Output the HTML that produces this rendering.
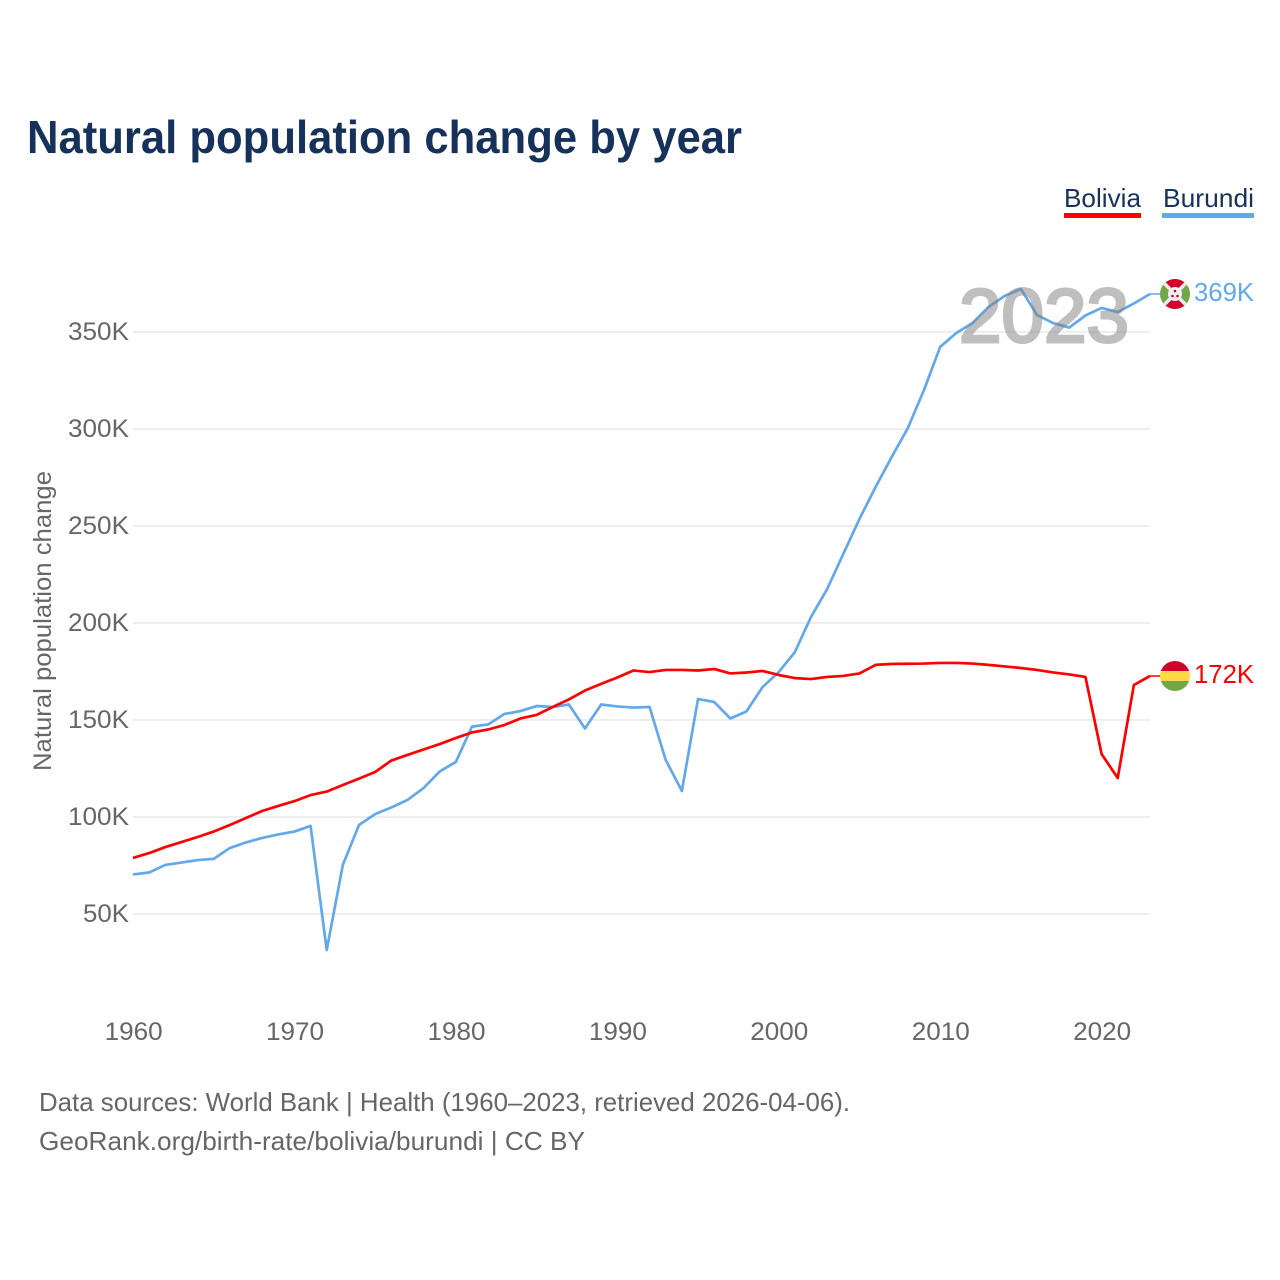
<!DOCTYPE html>
<html lang="en">
<head>
<meta charset="utf-8">
<title>Natural population change by year</title>
<style>
html,body{margin:0;padding:0;background:#fff;width:1280px;height:1280px;overflow:hidden}
svg{display:block}
text{font-family:"Liberation Sans",sans-serif}
</style>
</head>
<body>
<svg id="chart" xmlns="http://www.w3.org/2000/svg" width="1280" height="1280" viewBox="0 0 1280 1280">
  <text x="27" y="153" font-size="46" font-weight="700" fill="#16325a" textLength="715" lengthAdjust="spacingAndGlyphs">Natural population change by year</text>

  <g>
    <g>
      <text x="1064" y="207" font-size="26" fill="#16325a" textLength="77" lengthAdjust="spacingAndGlyphs">Bolivia</text>
      <rect x="1064" y="213" width="77" height="5" fill="#ff0000"/>
    </g>
    <g>
      <text x="1163" y="207" font-size="26" fill="#16325a" textLength="91" lengthAdjust="spacingAndGlyphs">Burundi</text>
      <rect x="1162" y="213" width="92" height="5" fill="#62a8ea"/>
    </g>
  </g>

  <g id="grid"></g>
  <g id="yticks"></g>
  <g id="xticks"></g>

  <text transform="translate(51,771) rotate(-90)" font-size="25" fill="#666666" textLength="300" lengthAdjust="spacingAndGlyphs">Natural population change</text>

  <g id="series"></g>

  <text x="959" y="342" font-size="76" font-weight="400" fill="#808080" stroke="#808080" stroke-width="3" opacity="0.5" textLength="170" lengthAdjust="spacingAndGlyphs">2023</text>

  <defs>
    <clipPath id="clip-bolivia"><circle cx="1175" cy="676" r="15"/></clipPath>
    <clipPath id="clip-burundi"><circle cx="1175" cy="294" r="15"/></clipPath>
  </defs>

  <g clip-path="url(#clip-bolivia)">
    <rect x="1160" y="661" width="30" height="10" fill="#d1002c"/>
    <rect x="1160" y="671" width="30" height="10" fill="#ffd848"/>
    <rect x="1160" y="681" width="30" height="10" fill="#70a845"/>
  </g>
  <g clip-path="url(#clip-burundi)">
    <polygon points="1160,279 1190,279 1175,294" fill="#d1002c"/>
    <polygon points="1160,309 1190,309 1175,294" fill="#d1002c"/>
    <polygon points="1160,279 1160,309 1175,294" fill="#70a845"/>
    <polygon points="1190,279 1190,309 1175,294" fill="#70a845"/>
    <line x1="1160" y1="279" x2="1190" y2="309" stroke="#ececec" stroke-width="3.5"/>
    <line x1="1190" y1="279" x2="1160" y2="309" stroke="#ececec" stroke-width="3.5"/>
    <circle cx="1175" cy="294" r="7" fill="#f0f0f0"/>
    <circle cx="1175" cy="291" r="1.3" fill="#d1002c"/>
    <circle cx="1172.5" cy="296" r="1.3" fill="#d1002c"/>
    <circle cx="1177.5" cy="296" r="1.3" fill="#d1002c"/>
  </g>

  <g font-size="26" fill="#666666">
    <text x="39" y="1111" textLength="811" lengthAdjust="spacingAndGlyphs">Data sources: World Bank | Health (1960–2023, retrieved 2026-04-06).</text>
    <text x="39" y="1150" textLength="546" lengthAdjust="spacingAndGlyphs">GeoRank.org/birth-rate/bolivia/burundi | CC BY</text>
  </g>
</svg>
<script>
const firstYear = 1960;
const bolivia = [78.9,81.4,84.5,87.1,89.7,92.5,95.9,99.5,103.1,105.7,108.2,111.3,113.1,116.5,119.8,123.2,129.1,132,134.8,137.6,140.7,143.6,145.1,147.4,150.8,152.6,156.7,160.6,165.2,168.6,171.9,175.5,174.7,175.8,175.8,175.5,176.3,174,174.5,175.3,173.2,171.6,171.1,172.2,172.7,174,178.4,178.9,179,179.1,179.4,179.4,179.1,178.4,177.6,176.8,175.8,174.5,173.5,172.2,132.5,120.1,168,172.7];
const burundi = [70.4,71.4,75.3,76.5,77.8,78.4,84,86.9,89.2,91,92.5,95.4,31.4,75.3,95.9,101.5,104.9,108.8,114.9,123.5,128.4,146.6,147.7,153.1,154.6,157.2,156.7,158,145.6,158,157,156.4,156.7,129.4,113.4,160.8,159.3,150.8,154.4,167,174.7,185,203.1,217.5,235.6,253.6,270.1,285.6,300.5,320.1,342.3,349.5,354.6,362.9,368.6,372.2,358.8,354.6,352.3,358.5,362.4,360.3,364.7,369.6];
const yTickValues = [50,100,150,200,250,300,350];
const xTickValues = [1960,1970,1980,1990,2000,2010,2020];
const boliviaEndLabel = "172K";
const burundiEndLabel = "369K";

const NS = "http://www.w3.org/2000/svg";
const xScale = function (year) { return 133 + (year - 1960) * (1150 - 133) / 63; };
const yScale = function (value) { return 914 - (value - 50) * 1.94; };

function make(tag, parent, attrs, text) {
  const el = document.createElementNS(NS, tag);
  for (const key in attrs) el.setAttribute(key, attrs[key]);
  if (text !== undefined) el.textContent = text;
  parent.appendChild(el);
  return el;
}

const grid = document.getElementById("grid");
const yticks = document.getElementById("yticks");
const xticks = document.getElementById("xticks");
const seriesGroup = document.getElementById("series");
const svg = document.getElementById("chart");

yTickValues.forEach(function (v) {
  const line = make("line", grid, { x1: 133, x2: 1150, y1: yScale(v), y2: yScale(v), stroke: "#eeeeee", "stroke-width": 2 });
  
  
  const label = make("text", yticks, { x: 129, y: yScale(v) + 8, "text-anchor": "end", "font-size": 25, fill: "#666666" }, v + "K");
  
  
  label.setAttribute('textLength', String(v < 100 ? 46 : 61));
  label.setAttribute('lengthAdjust', 'spacingAndGlyphs');
});

xTickValues.forEach(function (y) {
  const label = make("text", xticks, { x: xScale(y) + 0.6, y: 1040, "text-anchor": "middle", "font-size": 25, fill: "#666666" }, String(y));
  
  
  label.setAttribute('textLength', '58');
  label.setAttribute('lengthAdjust', 'spacingAndGlyphs');
});

function drawSeries(values, color, name, endLabel) {
  const pts = values.map(function (v, i) { return xScale(firstYear + i).toFixed(2) + "," + yScale(v).toFixed(2); });
  const line = make("polyline", seriesGroup, { points: pts.join(" "), fill: "none", stroke: color, "stroke-width": 2.7, "stroke-linejoin": "round" });
  
  
  const lastY = yScale(values[values.length - 1]);
  const connector = make("line", seriesGroup, { x1: xScale(firstYear + values.length - 1), x2: 1160, y1: lastY, y2: lastY, stroke: color, "stroke-width": 1.5 });
  
  
  const label = make("text", svg, { x: 1194, y: lastY + 7, "font-size": 26, fill: color }, endLabel);
  
  
  label.setAttribute('textLength', '60');
  label.setAttribute('lengthAdjust', 'spacingAndGlyphs');
}

drawSeries(burundi, "#62a8ea", "burundi", burundiEndLabel);
drawSeries(bolivia, "#ff0000", "bolivia", boliviaEndLabel);
</script>
</body>
</html>
